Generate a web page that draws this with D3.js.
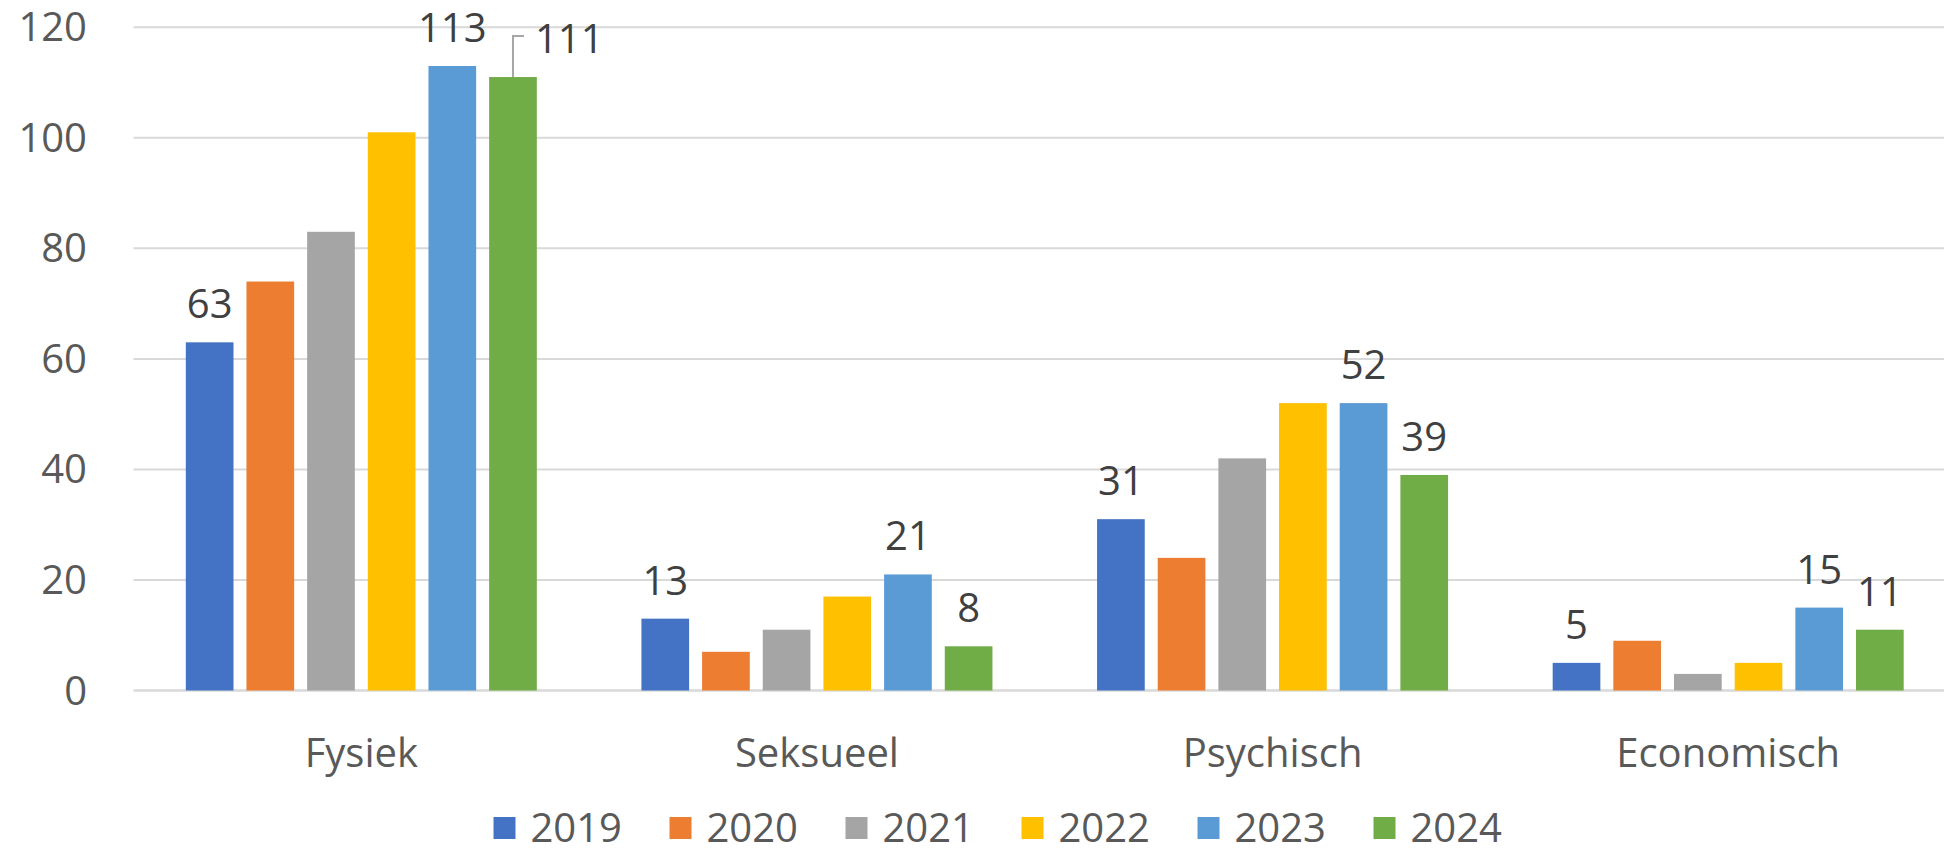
<!DOCTYPE html>
<html>
<head>
<meta charset="utf-8">
<script src="https://cdn.jsdelivr.net/npm/d3@7"></script>
<style>
  html, body { margin: 0; padding: 0; background: #ffffff; }
  svg { display: block; }
  text { font-family: "Open Sans", "Noto Sans", sans-serif; }
</style>
</head>
<body>
<svg id="chart" width="1944" height="853"></svg>
<script>
const categories = ["Fysiek", "Seksueel", "Psychisch", "Economisch"];
const years = ["2019", "2020", "2021", "2022", "2023", "2024"];
const colors = ["#4472C4", "#ED7D31", "#A5A5A5", "#FFC000", "#5B9BD5", "#70AD47"];
const values2019 = [63, 13, 31, 5];
const values2020 = [74, 7, 24, 9];
const values2021 = [83, 11, 42, 3];
const values2022 = [101, 17, 52, 5];
const values2023 = [113, 21, 52, 15];
const values2024 = [111, 8, 39, 11];
const yTicks = [0, 20, 40, 60, 80, 100, 120];
const labeledYears = ["2019", "2023", "2024"];
const leaderLabel = { year: "2024", category: "Fysiek" };

const seriesValues = [values2019, values2020, values2021, values2022, values2023, values2024];
const series = years.map((yr, i) => ({ year: yr, color: colors[i], values: seriesValues[i] }));

const svg = d3.select("#chart");
const FS = 40;

const y = d3.scaleLinear().domain([0, 120]).range([690.5, 27.3]);
const x0 = d3.scaleBand().domain(categories).range([133.5, 1956]).paddingInner(0).paddingOuter(0);
const groupPad = 52.3;
const x1 = d3.scaleBand().domain(years)
  .range([groupPad, x0.bandwidth() - groupPad])
  .paddingInner(0.214).paddingOuter(0);

// gridlines
svg.append("g").selectAll("line").data(yTicks).join("line")
  .attr("x1", x0.range()[0]).attr("x2", x0.range()[1])
  .attr("y1", d => y(d)).attr("y2", d => y(d))
  .attr("stroke", "#d9d9d9").attr("stroke-width", d => d === 0 ? 2.5 : 2);

// y tick labels
svg.append("g").selectAll("text").data(yTicks).join("text")
  .attr("x", 87).attr("y", d => y(d) + 14)
  .attr("text-anchor", "end").attr("font-size", FS).attr("fill", "#595959")
  .text(d => d);

// bars
const groups = svg.append("g").selectAll("g").data(series).join("g")
  .attr("fill", d => d.color);
groups.selectAll("rect").data(s => s.values.map((v, i) => ({ v, cat: categories[i], year: s.year })))
  .join("rect")
  .attr("x", d => x0(d.cat) + x1(d.year))
  .attr("width", x1.bandwidth())
  .attr("y", d => y(d.v))
  .attr("height", d => y(0) - y(d.v));

// data labels
const labelData = [];
series.filter(s => labeledYears.includes(s.year)).forEach(s => {
  s.values.forEach((v, i) => labelData.push({ v, cat: categories[i], year: s.year }));
});
const lbl = svg.append("g");
labelData.forEach(d => {
  const cx = x0(d.cat) + x1(d.year) + x1.bandwidth() / 2;
  const ty = y(d.v) - 24;
  if (d.year === leaderLabel.year && d.cat === leaderLabel.category) {
    lbl.append("path")
      .attr("d", `M${cx},${y(d.v)}V${y(d.v) - 41}H${cx + 11}`)
      .attr("fill", "none").attr("stroke", "#a6a6a6").attr("stroke-width", 2);
    lbl.append("text").attr("x", cx + 22).attr("y", ty)
      .attr("text-anchor", "start").attr("font-size", FS).attr("fill", "#404040").text(d.v);
  } else {
    lbl.append("text").attr("x", cx).attr("y", ty)
      .attr("text-anchor", "middle").attr("font-size", FS).attr("fill", "#404040").text(d.v);
  }
});

// category labels
svg.append("g").selectAll("text").data(categories).join("text")
  .attr("x", d => x0(d) + x0.bandwidth() / 2).attr("y", 767)
  .attr("text-anchor", "middle").attr("font-size", FS).attr("fill", "#595959")
  .text(d => d);

// legend
const legendStep = 176, legendX = 493.5, legendY = 828;
const lg = svg.append("g").selectAll("g").data(series).join("g")
  .attr("transform", (d, i) => `translate(${legendX + i * legendStep},${legendY})`);
lg.append("rect").attr("x", 0).attr("y", -11).attr("width", 22).attr("height", 22)
  .attr("fill", d => d.color);
lg.append("text").attr("x", 37).attr("y", 14).attr("font-size", FS).attr("fill", "#595959")
  .text(d => d.year);
</script>
</body>
</html>
